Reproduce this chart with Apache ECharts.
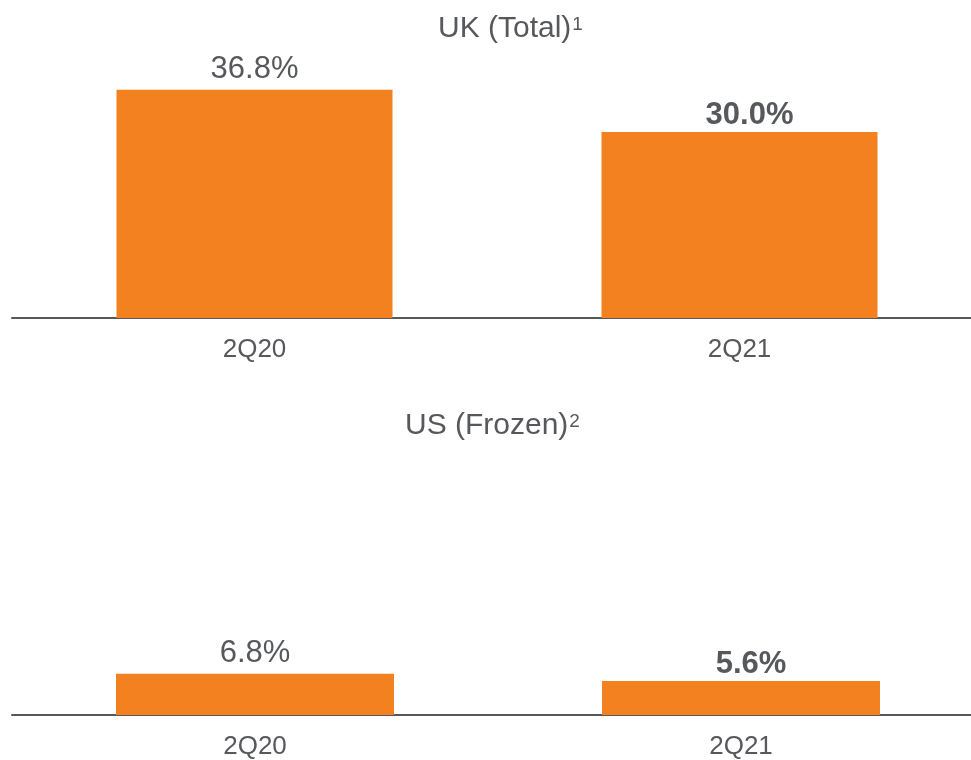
<!DOCTYPE html>
<html>
<head>
<meta charset="utf-8">
<script src="https://cdn.jsdelivr.net/npm/echarts@6/dist/echarts.min.js"></script>
<style>
  html, body { margin: 0; padding: 0; background: #fff; overflow: hidden; }
  #chart { width: 1000px; height: 760px; }
</style>
</head>
<body>
<div id="chart"></div>
<script>
// Periods shown on both panels
const periods = ['2Q20', '2Q21'];
// Share values (%) per panel
const ukTotal = [36.8, 30.0];
const usFrozen = [6.8, 5.6];
// Panel headings and their footnote markers
const ukTitle = 'UK (Total)';
const ukNote = '1';
const usTitle = 'US (Frozen)';
const usNote = '2';

const ORANGE = '#F48120';
const GREY = '#56585C';
const FONT = '"Liberation Sans", Arial, sans-serif';

// Latest period is emphasised in bold, nudged slightly right
function valueLabel(bold, distance) {
  return {
    show: true,
    position: 'top',
    distance: distance,
    offset: bold ? [10, 0] : [0, 0],
    fontFamily: FONT,
    fontSize: 31,
    fontWeight: bold ? 'bold' : 'normal',
    color: GREY,
    formatter: p => p.value.toFixed(1) + '%'
  };
}

function barData(values, distances) {
  return values.map((v, i) => ({
    value: v,
    label: valueLabel(i === values.length - 1, distances[i])
  }));
}

function catAxis(gridIndex) {
  return {
    type: 'category',
    gridIndex: gridIndex,
    data: periods,
    axisLine: { show: true, lineStyle: { color: GREY, width: 2 } },
    axisTick: { show: false },
    axisLabel: { fontFamily: FONT, fontSize: 26, color: GREY, margin: 19 }
  };
}

function valAxis(gridIndex) {
  return {
    type: 'value',
    gridIndex: gridIndex,
    min: 0,
    max: 40,
    show: false,
    splitLine: { show: false }
  };
}

function heading(text, note, left, top) {
  return {
    text: '{t|' + text + '}{s|' + note + '}',
    left: left,
    top: top,
    textStyle: {
      fontWeight: 'normal',
      rich: {
        t: { fontFamily: FONT, fontSize: 30, fontWeight: 'normal', color: GREY, lineHeight: 32 },
        s: { fontFamily: FONT, fontSize: 19, fontWeight: 'normal', color: GREY, verticalAlign: 'top', lineHeight: 20, padding: [2, 0, 0, 1] }
      }
    }
  };
}

const chart = echarts.init(document.getElementById('chart'));
chart.setOption({
  backgroundColor: '#ffffff',
  animation: false,
  title: [
    heading(ukTitle, ukNote, 433, 8),
    heading(usTitle, usNote, 400, 405)
  ],
  grid: [
    { left: 12, top: 70, width: 970, height: 248 },
    { left: 12, top: 473, width: 972, height: 242 }
  ],
  xAxis: [catAxis(0), catAxis(1)],
  yAxis: [valAxis(0), valAxis(1)],
  series: [
    {
      type: 'bar', xAxisIndex: 0, yAxisIndex: 0,
      barWidth: 276,
      itemStyle: { color: ORANGE },
      data: barData(ukTotal, [5, 1])
    },
    {
      type: 'bar', xAxisIndex: 1, yAxisIndex: 1,
      barWidth: 278,
      itemStyle: { color: ORANGE },
      data: barData(usFrozen, [5, 1])
    }
  ]
});
</script>
</body>
</html>
